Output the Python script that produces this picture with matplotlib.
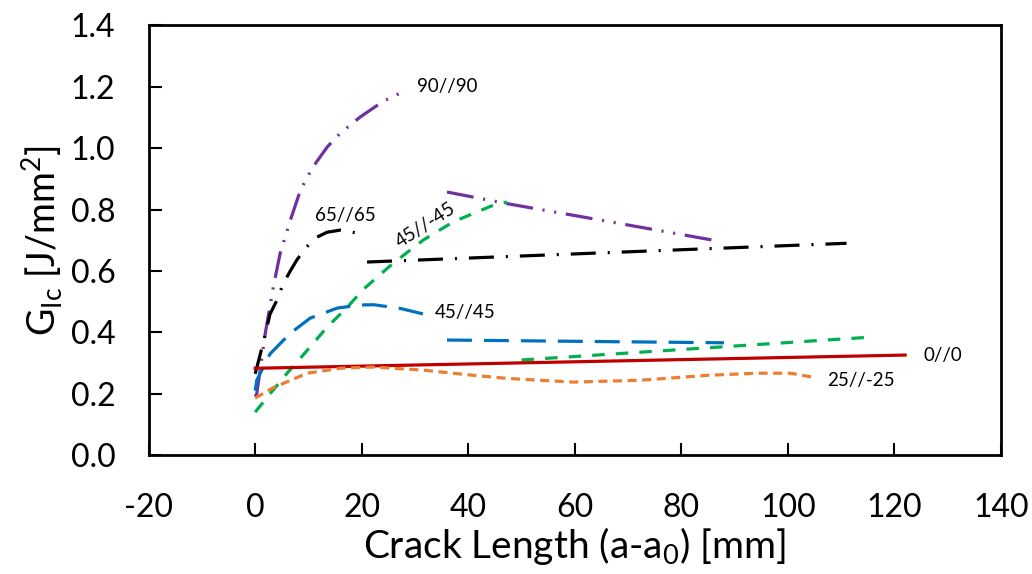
import matplotlib
matplotlib.use("Agg")
import matplotlib.pyplot as plt

plt.rcParams['font.family'] = ['Lato', 'DejaVu Sans']
plt.rcParams['lines.scale_dashes'] = False

# ---- data ----
p90_x1 = [0, 0.3, 1.9, 3.4, 4.7, 6.6, 8.5, 10.7, 13.5, 16.0, 19.7, 24.0, 28.5]
p90_y1 = [0.19, 0.2, 0.397, 0.547, 0.658, 0.765, 0.863, 0.935, 1.003, 1.049, 1.101, 1.152, 1.19]
p90_x2 = [36, 47, 65, 86]
p90_y2 = [0.857, 0.82, 0.765, 0.70]

p65_x1 = [0, 1.5, 2.8, 4.1, 5.3, 6.6, 7.8, 9.4, 11.6, 13.5, 16.0, 19.2]
p65_y1 = [0.265, 0.365, 0.46, 0.505, 0.56, 0.60, 0.635, 0.674, 0.71, 0.726, 0.733, 0.723]
p65_x2 = [21, 111]
p65_y2 = [0.629, 0.69]

p45m_x1 = [0, 2.8, 6.0, 9.8, 13.5, 17.3, 20.3, 25.9, 31.5, 37.2, 44.7, 47.3]
p45m_y1 = [0.14, 0.2, 0.267, 0.342, 0.417, 0.482, 0.54, 0.625, 0.70, 0.76, 0.814, 0.824]
p45m_x2 = [50, 116]
p45m_y2 = [0.31, 0.385]

p45_x1 = [0, 0.3, 2.8, 6.6, 10.3, 15.4, 19.7, 22.2, 27.2, 31.5]
p45_y1 = [0.21, 0.244, 0.33, 0.397, 0.446, 0.479, 0.489, 0.49, 0.478, 0.46]
p45_x2 = [36, 88]
p45_y2 = [0.375, 0.366]

p0_x = [0, 122]
p0_y = [0.283, 0.326]

p25_x = [0, 3.4, 9.8, 16, 22.2, 31.5, 41, 47.3, 59.7, 72.3, 84.9, 94.3, 100.5, 104.6]
p25_y = [0.186, 0.22, 0.267, 0.283, 0.287, 0.277, 0.26, 0.25, 0.238, 0.244, 0.26, 0.267, 0.267, 0.254]

x_ticks = [-20, 0, 20, 40, 60, 80, 100, 120, 140]
y_ticks = [0.0, 0.2, 0.4, 0.6, 0.8, 1.0, 1.2, 1.4]

# ---- figure ----
fig = plt.figure(figsize=(10.32, 5.74), dpi=100)
ax = fig.add_axes([0.144, 0.207, 0.826, 0.749])

lw = 2.3
purple = '#7030A0'
black = '#000000'
green = '#00B050'
blue = '#0070C0'
red = '#C00000'
orange = '#ED7D31'

dd = (19.5, 7, 1.5, 7, 1.5, 7)
dash_dot = (18, 8.6, 1.5, 8.6)
for xs, ys in [(p90_x1, p90_y1), (p90_x2, p90_y2)]:
    ax.plot(xs, ys, color=purple, lw=lw, dashes=dd)
for xs, ys in [(p65_x1, p65_y1), (p65_x2, p65_y2)]:
    ax.plot(xs, ys, color=black, lw=lw, dashes=dash_dot)
for xs, ys in [(p45m_x1, p45m_y1), (p45m_x2, p45m_y2)]:
    ax.plot(xs, ys, color=green, lw=lw, dashes=(9, 8))
for xs, ys in [(p45_x1, p45_y1), (p45_x2, p45_y2)]:
    ax.plot(xs, ys, color=blue, lw=lw, dashes=(18, 8.6))
ax.plot(p0_x, p0_y, color=red, lw=lw)
ax.plot(p25_x, p25_y, color=orange, lw=lw, dashes=(6.5, 4))

fs_ann = 13.5
ax.text(30.4, 1.199, '90//90', fontsize=fs_ann, ha='left', va='center')
ax.text(16.9, 0.78, '65//65', fontsize=fs_ann, ha='center', va='center')
ax.text(31.9, 0.75, '45//-45', fontsize=fs_ann, ha='center', va='center', rotation=33, rotation_mode='anchor')
ax.text(33.8, 0.466, '45//45', fontsize=fs_ann, ha='left', va='center')
ax.text(125.4, 0.326, '0//0', fontsize=fs_ann, ha='left', va='center')
ax.text(107.4, 0.244, '25//-25', fontsize=fs_ann, ha='left', va='center')

ax.set_xlim(-20, 140)
ax.set_ylim(0, 1.4)
ax.set_xticks(x_ticks)
ax.set_xticklabels([str(v) for v in x_ticks])
ax.set_yticks(y_ticks)
ax.set_yticklabels([f'{v:.1f}' for v in y_ticks])
ax.tick_params(axis='both', direction='in', length=9, width=1.5, labelsize=23, pad=24)
ax.tick_params(axis='x', pad=27)
for s in ax.spines.values():
    s.set_linewidth(2)

ax.set_xlabel('Crack Length (a-a$_\\mathregular{0}$) [mm]', fontsize=28, labelpad=2)
ax.set_ylabel('G$_\\mathregular{Ic}$ [J/mm$^\\mathregular{2}$]', fontsize=27, labelpad=4)

fig.savefig('out.png', dpi=100)
